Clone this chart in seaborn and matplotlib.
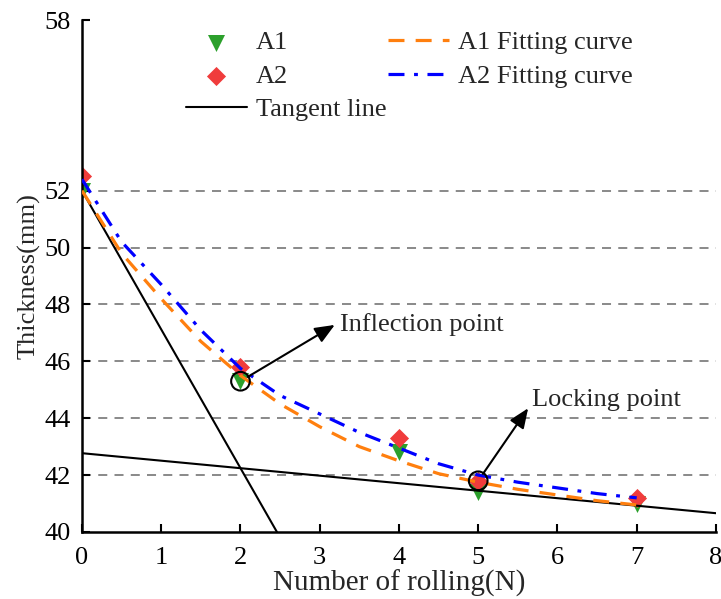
import matplotlib
matplotlib.use("Agg")
import matplotlib.pyplot as plt
import seaborn as sns
import pandas as pd

# ---- data ----
rolls = [0, 2, 4, 5, 7]
a1_thickness = [52.0, 45.3, 42.8, 41.4, 41.0]
a2_thickness = [52.5, 45.8, 43.3, 41.8, 41.2]

fit_x = [0, 0.5, 1, 1.5, 2, 2.5, 3, 3.5, 4, 4.5, 5, 5.5, 6, 6.5, 7]
a1_fit = [52.0, 49.8, 48.2, 46.7, 45.5, 44.5, 43.7, 43.0, 42.5, 42.05, 41.75, 41.5, 41.3, 41.1, 40.95]
a2_fit = [52.4, 50.2, 48.7, 47.1, 45.75, 44.8, 44.15, 43.5, 42.95, 42.4, 42.0, 41.75, 41.55, 41.35, 41.2]

tangent1_x = [0, 2.46]
tangent1_y = [52.0, 40.0]
tangent2_x = [0, 8]
tangent2_y = [42.77, 40.66]

inflection_pt = (2, 45.3)
locking_pt = (5, 41.8)

x_ticks = [0, 1, 2, 3, 4, 5, 6, 7, 8]
y_ticks = [40, 42, 44, 46, 48, 50, 52, 58]
grid_levels = [42, 44, 46, 48, 50, 52]

# ---- style ----
sns.set_theme(style="ticks")
plt.rcParams["font.family"] = ["Liberation Serif", "DejaVu Serif"]
FS = 19

fig = plt.figure(figsize=(7.21, 5.99), dpi=100)
ax = fig.add_axes([0.1137, 0.1119, 0.993 - 0.1137, 0.9666 - 0.1119])

GREEN = "#2ca02c"
RED = "#f03c3c"
ORANGE = "#ff7f0e"
BLUE = "#0000ff"

for g in grid_levels:
    ax.axhline(g, color="#808080", lw=1.3, ls=(0, (5, 4)), zorder=0)

sns.scatterplot(x=rolls, y=a1_thickness, ax=ax, marker="v", s=150, color=GREEN,
                edgecolor=GREEN, linewidth=0, label="A1", zorder=2)
sns.scatterplot(x=rolls, y=a2_thickness, ax=ax, marker="D", s=95, color=RED,
                edgecolor=RED, linewidth=0, label="A2", zorder=2)

df_fit = pd.DataFrame({"x": fit_x, "a1": a1_fit, "a2": a2_fit})
sns.lineplot(data=df_fit, x="x", y="a1", ax=ax, color=ORANGE, lw=2.3,
             linestyle=(0, (5, 3.5)), sort=False, label="A1 Fitting curve", zorder=3)
sns.lineplot(data=df_fit, x="x", y="a2", ax=ax, color=BLUE, lw=2.3,
             linestyle=(0, (5, 3, 1.2, 3)), sort=False, label="A2 Fitting curve", zorder=3)

sns.lineplot(x=tangent1_x, y=tangent1_y, ax=ax, color="black", lw=1.5,
             label="Tangent line", zorder=2.5)
sns.lineplot(x=tangent2_x, y=tangent2_y, ax=ax, color="black", lw=1.5, zorder=2.5)

# annotation circles
ax.scatter([inflection_pt[0], locking_pt[0]], [inflection_pt[1], locking_pt[1]],
           s=180, facecolors="none", edgecolors="black", linewidths=1.5, zorder=5)

ax.annotate("", xy=(3.19, 47.28), xytext=inflection_pt,
            arrowprops=dict(arrowstyle="-|>,head_length=0.6,head_width=0.25",
                            color="black", lw=1.5,
                            shrinkA=6, shrinkB=0, mutation_scale=20), zorder=6)
ax.text(3.26, 47.3, "Inflection point", fontsize=FS, va="center", ha="left")

ax.annotate("", xy=(5.63, 44.35), xytext=locking_pt,
            arrowprops=dict(arrowstyle="-|>,head_length=0.6,head_width=0.25",
                            color="black", lw=1.5,
                            shrinkA=6, shrinkB=0, mutation_scale=20), zorder=6)
ax.text(5.68, 44.64, "Locking point", fontsize=FS, va="center", ha="left")

# axes
ax.set_xlim(0, 8)
ax.set_ylim(40, 58)
ax.set_xticks(x_ticks)
ax.set_yticks(y_ticks)
ax.tick_params(direction="in", length=6, width=1.5, labelsize=FS, colors="black")
ax.tick_params(axis="x", pad=11)
ax.tick_params(axis="y", pad=8)
for side in ["top", "right"]:
    ax.spines[side].set_visible(False)
for side in ["left", "bottom"]:
    ax.spines[side].set_linewidth(1.8)
    ax.spines[side].set_color("black")
ax.set_xlabel("Number of rolling(N)", fontsize=21, labelpad=0)
ax.set_ylabel("Thickness(mm)", fontsize=FS, labelpad=3)

# legend
handles, labels = ax.get_legend_handles_labels()
hmap = dict(zip(labels, handles))
order = ["A1", "A2", "Tangent line", "A1 Fitting curve", "A2 Fitting curve"]
leg = ax.legend([hmap[k] for k in order], order, ncol=2, frameon=False,
                fontsize=FS, loc="upper left", bbox_to_anchor=(186 / 721, 1 - 31 / 599),
                bbox_transform=fig.transFigure, borderpad=0, borderaxespad=0,
                handlelength=2.3, handletextpad=0.35, columnspacing=0.05,
                labelspacing=0.38)

fig.savefig("out.png", dpi=100)
